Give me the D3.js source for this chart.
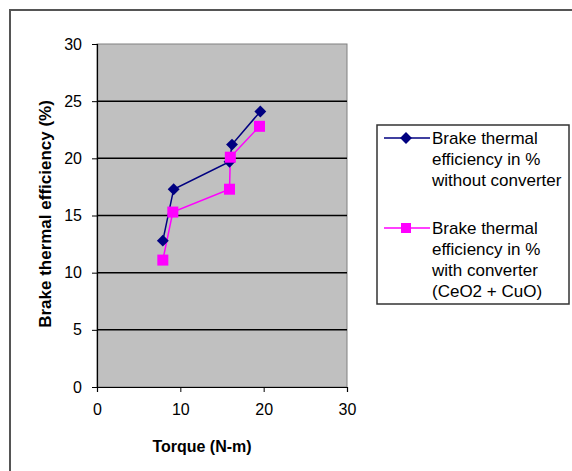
<!DOCTYPE html>
<html>
<head>
<meta charset="utf-8">
<script src="https://cdn.jsdelivr.net/npm/d3@7"></script>
<style>
  body { margin: 0; background: #fff; }
  text { font-family: "Liberation Sans", Arial, sans-serif; }
</style>
</head>
<body>
<div id="chart"></div>
<script>
// torque (N-m) and brake thermal efficiency (%)
var torqueWithout = [7.9, 9.2, 15.9, 16.2, 19.6];
var effWithout = [12.8, 17.3, 19.7, 21.2, 24.1];
var torqueWith = [7.9, 9.1, 15.9, 16.0, 19.5];
var effWith = [11.1, 15.3, 17.3, 20.1, 22.8];
var xTicks = [0, 10, 20, 30];
var yTicks = [0, 5, 10, 15, 20, 25, 30];
var seriesNames = [
    ["Brake thermal", "efficiency in %", "without converter"],
    ["Brake thermal", "efficiency in %", "with converter", "(CeO2 + CuO)"]
];

document.addEventListener("DOMContentLoaded", function(e) {
    var width = 572;
    var height = 471;
    var svg = d3.select("#chart")
        .append("svg")
        .attr("width", width)
        .attr("height", height);

    // outer chart frame
    svg.append("rect")
        .attr("x", 10).attr("y", 10)
        .attr("width", width + 10).attr("height", height + 10)
        .attr("fill", "white")
        .attr("stroke", "#555")
        .attr("stroke-width", 2);

    var left = 97, right = 347, top = 44, bottom = 387;
    var x = d3.scaleLinear().domain([0, 30]).range([left, right]);
    var y = d3.scaleLinear().domain([0, 30]).range([bottom, top]);

    svg.append("rect")
        .attr("x", left).attr("y", top)
        .attr("width", right - left).attr("height", bottom - top)
        .attr("fill", "#c0c0c0")
        .attr("stroke", "#808080")
        .attr("stroke-width", 1);

    // horizontal gridlines
    svg.selectAll(".grid")
        .data(yTicks.filter(function(d){ return d > 0 && d < 30; }))
        .enter()
        .append("line")
        .attr("x1", left).attr("x2", right)
        .attr("y1", function(d){ return y(d); })
        .attr("y2", function(d){ return y(d); })
        .attr("stroke", "black")
        .attr("stroke-width", 1.5);

    var yAxis = svg.append("g")
        .attr("transform", "translate(" + left + ",0)")
        .call(d3.axisLeft(y).tickValues(yTicks).tickSize(5).tickPadding(10));
    var xAxis = svg.append("g")
        .attr("transform", "translate(0," + bottom + ")")
        .call(d3.axisBottom(x).tickValues(xTicks).tickSize(5).tickPadding(12));
    [xAxis, yAxis].forEach(function(a){
        a.select(".domain").attr("stroke", "black").attr("stroke-width", 1.2);
        a.selectAll(".tick line").attr("stroke", "black");
        a.selectAll(".tick text")
            .attr("font-size", 16)
            .attr("font-family", "Liberation Sans, Arial, sans-serif")
            .attr("fill", "black");
    });

    svg.append("text")
        .attr("x", 202).attr("y", 452)
        .attr("text-anchor", "middle")
        .attr("font-size", 16)
        .attr("font-weight", "bold")
        .text("Torque (N-m)");

    svg.append("text")
        .attr("transform", "translate(51," + 214 + ") rotate(-90)")
        .attr("text-anchor", "middle")
        .attr("font-size", 17)
        .attr("font-weight", "bold")
        .text("Brake thermal efficiency (%)");

    var line = d3.line()
        .x(function(d){ return x(d[0]); })
        .y(function(d){ return y(d[1]); });

    var blue = d3.zip(torqueWithout, effWithout);
    var pink = d3.zip(torqueWith, effWith);

    svg.append("path").datum(blue)
        .attr("d", line)
        .attr("fill", "none")
        .attr("stroke", "#000080")
        .attr("stroke-width", 1.5);
    svg.append("path").datum(pink)
        .attr("d", line)
        .attr("fill", "none")
        .attr("stroke", "#ff00ff")
        .attr("stroke-width", 1.5);

    var diamond = d3.symbol().type(d3.symbolDiamond2).size(90);
    svg.selectAll(".dia")
        .data(blue)
        .enter()
        .append("path")
        .attr("d", diamond)
        .attr("transform", function(d){ return "translate(" + x(d[0]) + "," + y(d[1]) + ")"; })
        .attr("fill", "#000080");

    svg.selectAll(".sq")
        .data(pink)
        .enter()
        .append("rect")
        .attr("x", function(d){ return x(d[0]) - 5.5; })
        .attr("y", function(d){ return y(d[1]) - 5.5; })
        .attr("width", 11).attr("height", 11)
        .attr("fill", "#ff00ff");

    // legend
    var legend = svg.append("g");
    legend.append("rect")
        .attr("x", 377).attr("y", 125)
        .attr("width", 192).attr("height", 179)
        .attr("fill", "white")
        .attr("stroke", "#333")
        .attr("stroke-width", 1.5);

    var entryTop = [142, 232];
    var colors = ["#000080", "#ff00ff"];
    for (var i = 0; i < 2; i++){
        legend.append("line")
            .attr("x1", 384).attr("x2", 430)
            .attr("y1", entryTop[i] - 4).attr("y2", entryTop[i] - 4)
            .attr("stroke", colors[i])
            .attr("stroke-width", 1.5);
        if (i == 0){
            legend.append("path")
                .attr("d", diamond)
                .attr("transform", "translate(406," + (entryTop[i] - 4) + ")")
                .attr("fill", colors[i]);
        } else {
            legend.append("rect")
                .attr("x", 401).attr("y", entryTop[i] - 9)
                .attr("width", 10).attr("height", 10)
                .attr("fill", colors[i]);
        }
        seriesNames[i].forEach(function(t, j){
            legend.append("text")
                .attr("x", 432)
                .attr("y", entryTop[i] + j * 21 + 2)
                .attr("font-size", 17)
                .text(t);
        });
    }
});
</script>
</body>
</html>
